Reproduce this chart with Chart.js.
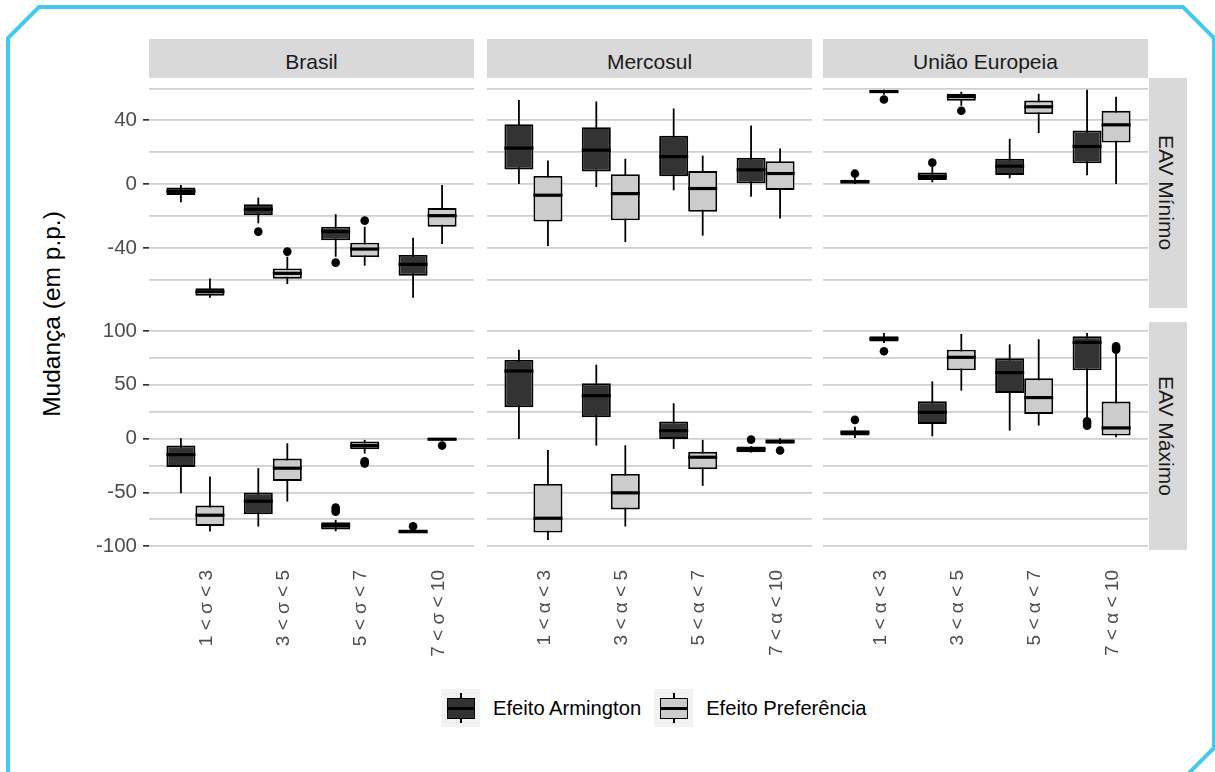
<!DOCTYPE html>
<html>
<head>
<meta charset="utf-8">
<script src="https://cdn.jsdelivr.net/npm/chart.js@4.4.0/dist/chart.umd.min.js"></script>
<style>
body { margin: 0; background: #fff; }
#wrap { position: relative; width: 1215px; height: 772px; overflow: hidden; background: #fff;
        font-family: "Liberation Sans", Arial, sans-serif; }
canvas { position: absolute; }
.strip { position: absolute; background: #d9d9d9; color: #1a1a1a; font-size: 21px;
         display: flex; align-items: center; justify-content: center; }
.strip.top { height: 39px; top: 39px; width: 325px; padding-top: 6px; box-sizing: border-box; }
.strip.side { left: 1149px; width: 38px; writing-mode: vertical-rl; padding-right: 4px; box-sizing: border-box; }
#ytitle { position: absolute; left: 52px; top: 314px; transform: translate(-50%, -50%) rotate(-90deg);
          font-size: 24.5px; color: #000; white-space: nowrap; }
#legend { position: absolute; left: 441px; top: 689px; height: 38px; display: flex; align-items: center;
          font-size: 20.2px; color: #000; }
.key { position: relative; width: 39px; height: 38px; background: #f2f2f2; margin-right: 13px; }
.key .w { position: absolute; left: 19px; top: 4px; width: 1.8px; height: 30px; background: #000; }
.key .b { position: absolute; left: 6px; top: 9px; width: 28px; height: 21px; border: 1.9px solid #000; box-sizing: border-box; }
.key .m { position: absolute; left: 6px; top: 18px; width: 28px; height: 2.8px; background: #000; }
.lab { margin-right: 13px; }
svg { position: absolute; left: 0; top: 0; }
</style>
</head>
<body>
<div id="wrap">
  <svg width="1215" height="772"><polygon points="8,779 8,38 39,7 1183,7 1214,38 1214,748 1183,779 39,779"
       fill="none" stroke="#45c8f2" stroke-width="4"/></svg>
  <div id="ytitle">Mudança (em p.p.)</div>
  <div id="legend"></div>
</div>
<script>
const regions = ['Brasil', 'Mercosul', 'União Europeia'];
const scenarios = ['EAV Mínimo', 'EAV Máximo'];
const seriesNames = ['Efeito Armington', 'Efeito Preferência'];
const seriesColors = ['#333333', '#cccccc'];
const sigmaLabels = ['1 < σ < 3', '3 < σ < 5', '5 < σ < 7', '7 < σ < 10'];
const alphaLabels = ['1 < α < 3', '3 < α < 5', '5 < α < 7', '7 < α < 10'];

const minTicks = [-60, -40, -20, 0, 20, 40, 60];
const minLabels = [-40, 0, 40];
const maxTicks = [-100, -75, -50, -25, 0, 25, 50, 75, 100];
const maxLabels = [-100, -50, 0, 50, 100];

// each box: [whisker low, q1, median, q3, whisker high]
// EAV Mínimo
const brasilMinArm = [[-11.3, -6.7, -4.4, -2.1, 0], [-24.5, -19.4, -15.7, -12.5, -8.4], [-45.4, -35.1, -29.7, -26.6, -18.8], [-71.1, -57.3, -50.2, -44.3, -33.5]];
const brasilMinArmOut = [[], [-29.7], [-49.1], []];
const brasilMinPref = [[-71.1, -69.8, -67.3, -65.2, -59], [-62.5, -59.2, -55.8, -52.7, -45.4], [-51, -45.6, -40.6, -36.6, -26.6], [-37.4, -26.6, -19.7, -14.9, 0]];
const brasilMinPrefOut = [[], [-42.2], [-22.8], []];

const mercoMinArm = [[0.2, 9.2, 22.6, 37.6, 52.7], [-1.7, 7.9, 21.3, 35.7, 51.8], [-3.8, 5, 17.3, 30.3, 47.4], [-7.8, 0, 9, 16.5, 36.8]];
const mercoMinArmOut = [[], [], [], []];
const mercoMinPref = [[-38.7, -23.4, -6.9, 5.2, 14.8], [-36.2, -22.6, -5.9, 6.3, 15.9], [-32.2, -17.2, -2.7, 8.2, 17.9], [-21.5, -3.6, 6.7, 14.4, 22.3]];
const mercoMinPrefOut = [[], [], [], []];

const ueMinArm = [[0.2, 0.5, 1.5, 2.8, 4.8], [1.2, 2.7, 4.8, 7.3, 11], [3.7, 5.8, 11.3, 15.9, 28.4], [5.6, 13.1, 23.6, 33.6, 59.1]];
const ueMinArmOut = [[6.6], [13.5], [], []];
const ueMinPref = [[56, 57.2, 58, 58.8, 59.1], [49.1, 52.2, 54.9, 56.6, 57.9], [32, 43.9, 48.5, 52.4, 56.6], [0.2, 26.1, 37.2, 46, 54.7]];
const ueMinPrefOut = [[53], [46], [], []];

// EAV Máximo
const brasilMaxArm = [[-50.8, -26.3, -14.9, -6.5, 0.3], [-81.7, -70.3, -58.2, -50.1, -27.5], [-86.1, -84.5, -80.8, -77.7, -75.5], [-87.8, -87.6, -86.5, -84.5, -84]];
const brasilMaxArmOut = [[], [], [-64, -66, -68], [-81.5]];
const brasilMaxPref = [[-86.4, -81.1, -71.2, -62.2, -35.3], [-58.5, -39.3, -27.5, -18.6, -4.3], [-14, -9.9, -6.5, -2.8, -1.2], [-2, -1.6, -0.6, 0.3, 0.5]];
const brasilMaxPrefOut = [[], [], [-21, -22, -23], [-6.5]];

const mercoMaxArm = [[-0.3, 29.1, 62.8, 73.1, 82.6], [-6.5, 19.8, 39.9, 51.4, 68.7], [-9.6, -0.3, 7.4, 15.8, 32.8], [-13, -12.8, -10, -7.4, -7.2]];
const mercoMaxArmOut = [[], [], [], [-1]];
const mercoMaxPref = [[-94.1, -87.3, -74, -42.1, -10.5], [-81.7, -65.9, -50.4, -32.8, -6.2], [-43.9, -28.5, -17.3, -12.3, -1.2], [-5, -4.9, -2.5, 0, 0.3]];
const mercoMaxPrefOut = [[], [], [], [-11.1]];

const ueMaxArm = [[0.6, 2.8, 5.5, 7.7, 11], [2.1, 13.6, 24.4, 34.6, 53.2], [7.4, 42.4, 61.3, 74.6, 87.6], [19.8, 63.4, 89.4, 95, 98.1]];
const ueMaxArmOut = [[17.4], [], [], [12, 14, 16]];
const ueMaxPref = [[88.8, 90.3, 92.6, 95, 98.1], [44.6, 63.4, 75.5, 82.6, 97.2], [12.1, 22.9, 38.1, 56, 92.2], [1.2, 2.8, 9.9, 34.4, 79]];
const ueMaxPrefOut = [[81.1], [], [], [82.5, 84, 85.7]];

const FONT = '"Liberation Sans", Arial, sans-serif';
const colLeft = [149, 487, 823];
const panelW = 325;
const rowTop = [78, 322];
const rowH = [230, 228];
const yRange = [[-77.5, 66.5], [-103.5, 108.3]];

const panels = [
    { row: 0, col: 0, cats: sigmaLabels, arm: brasilMinArm, armOut: brasilMinArmOut, pref: brasilMinPref, prefOut: brasilMinPrefOut },
    { row: 0, col: 1, cats: alphaLabels, arm: mercoMinArm, armOut: mercoMinArmOut, pref: mercoMinPref, prefOut: mercoMinPrefOut },
    { row: 0, col: 2, cats: alphaLabels, arm: ueMinArm, armOut: ueMinArmOut, pref: ueMinPref, prefOut: ueMinPrefOut },
    { row: 1, col: 0, cats: sigmaLabels, arm: brasilMaxArm, armOut: brasilMaxArmOut, pref: brasilMaxPref, prefOut: brasilMaxPrefOut },
    { row: 1, col: 1, cats: alphaLabels, arm: mercoMaxArm, armOut: mercoMaxArmOut, pref: mercoMaxPref, prefOut: mercoMaxPrefOut },
    { row: 1, col: 2, cats: alphaLabels, arm: ueMaxArm, armOut: ueMaxArmOut, pref: ueMaxPref, prefOut: ueMaxPrefOut }
];

const wrap = document.getElementById('wrap');

// medians and outliers, placed on the bars drawn by chart.js
function boxExtras(p) {
    return {
        id: 'boxExtras',
        afterDatasetsDraw(chart) {
            const ctx = chart.ctx, ys = chart.scales.y, a = chart.chartArea;
            ctx.save();
            ctx.beginPath();
            ctx.rect(a.left, a.top, a.right - a.left, a.bottom - a.top);
            ctx.clip();
            [[p.arm, p.armOut], [p.pref, p.prefOut]].forEach(([stats, outs], di) => {
                chart.getDatasetMeta(di).data.forEach((bar, i) => {
                    const { x, width } = bar.getProps(['x', 'width'], true);
                    const my = ys.getPixelForValue(stats[i][2]);
                    ctx.strokeStyle = '#000';
                    ctx.lineWidth = 3.2;
                    ctx.beginPath();
                    ctx.moveTo(x - width / 2, my);
                    ctx.lineTo(x + width / 2, my);
                    ctx.stroke();
                    ctx.fillStyle = '#000';
                    outs[i].forEach(v => {
                        ctx.beginPath();
                        ctx.arc(x, ys.getPixelForValue(v), 4.3, 0, Math.PI * 2);
                        ctx.fill();
                    });
                });
            });
            ctx.restore();
        }
    };
}

function boxSet(stats, fill, stack) {
    return {
        data: stats.map((s, i) => ({ x: i + 1, y: [s[1], s[3]] })),
        backgroundColor: fill,
        borderColor: '#000',
        borderWidth: 1.9,
        borderSkipped: false,
        stack: stack,
        categoryPercentage: 0.75,
        barPercentage: 1
    };
}

function whiskerSet(stats, stack) {
    return {
        data: stats.map((s, i) => ({ x: i + 1, y: [s[0], s[4]] })),
        backgroundColor: '#000',
        borderWidth: 0,
        stack: stack,
        categoryPercentage: 0.75,
        barPercentage: 1,
        maxBarThickness: 1.8
    };
}

function noPadding(s) {
    s.paddingTop = 0;
    s.paddingBottom = 0;
    s.paddingLeft = 0;
    s.paddingRight = 0;
}

function makePanel(p) {
    const left = p.col === 0;
    const bottom = p.row === 1;
    const axisW = left ? 69 : 0;
    const axisH = bottom ? 130 : 0;
    const cv = document.createElement('canvas');
    cv.width = panelW + axisW;
    cv.height = rowH[p.row] + axisH;
    cv.style.left = (colLeft[p.col] - axisW) + 'px';
    cv.style.top = rowTop[p.row] + 'px';
    wrap.appendChild(cv);

    const ticks = p.row === 0 ? minTicks : maxTicks;
    const labels = p.row === 0 ? minLabels : maxLabels;

    new Chart(cv.getContext('2d'), {
        type: 'bar',
        data: {
            datasets: [
                boxSet(p.arm, seriesColors[0], 'a'),
                boxSet(p.pref, seriesColors[1], 'b'),
                whiskerSet(p.arm, 'a'),
                whiskerSet(p.pref, 'b')
            ]
        },
        options: {
            responsive: false,
            animation: false,
            events: [],
            layout: { padding: 0 },
            plugins: { legend: { display: false }, tooltip: { enabled: false } },
            scales: {
                x: {
                    type: 'linear',
                    min: 0.4,
                    max: 4.6,
                    offset: false,
                    display: bottom,
                    border: { display: false },
                    grid: { display: false, drawTicks: false },
                    afterBuildTicks: s => { s.ticks = p.cats.map((c, i) => ({ value: i + 1 })); },
                    afterFit: s => { s.height = axisH; noPadding(s); },
                    ticks: {
                        autoSkip: false,
                        minRotation: 90,
                        maxRotation: 90,
                        padding: 20,
                        labelOffset: 11,
                        color: '#4d4d4d',
                        font: { family: FONT, size: 19 },
                        callback: v => p.cats[v - 1]
                    }
                },
                y: {
                    min: yRange[p.row][0],
                    max: yRange[p.row][1],
                    stacked: false,
                    border: { display: false },
                    afterBuildTicks: s => { s.ticks = ticks.map(v => ({ value: v })); },
                    afterFit: s => { s.width = axisW; noPadding(s); },
                    grid: {
                        color: '#cfcfcf',
                        lineWidth: 1.7,
                        drawTicks: left,
                        tickLength: 6,
                        tickWidth: 1.7,
                        tickColor: c => (c.tick && labels.includes(c.tick.value)) ? '#333333' : 'rgba(0,0,0,0)'
                    },
                    ticks: {
                        display: left,
                        padding: 6,
                        color: '#4d4d4d',
                        font: { family: FONT, size: 20.5 },
                        callback: v => labels.includes(v) ? String(v) : ''
                    }
                }
            }
        },
        plugins: [boxExtras(p)]
    });
}

panels.forEach(makePanel);

// strips
regions.forEach((r, i) => {
    const d = document.createElement('div');
    d.className = 'strip top';
    d.style.left = colLeft[i] + 'px';
    d.textContent = r;
    wrap.appendChild(d);
});
scenarios.forEach((s, i) => {
    const d = document.createElement('div');
    d.className = 'strip side';
    d.style.top = rowTop[i] + 'px';
    d.style.height = rowH[i] + 'px';
    d.textContent = s;
    wrap.appendChild(d);
});

// legend
const legend = document.getElementById('legend');
seriesNames.forEach((name, i) => {
    const key = document.createElement('div');
    key.className = 'key';
    key.innerHTML = '<div class="w"></div><div class="b" style="background:' + seriesColors[i] + '"></div><div class="m"></div>';
    const lab = document.createElement('span');
    lab.className = 'lab';
    lab.textContent = name;
    legend.appendChild(key);
    legend.appendChild(lab);
});
</script>
</body>
</html>
